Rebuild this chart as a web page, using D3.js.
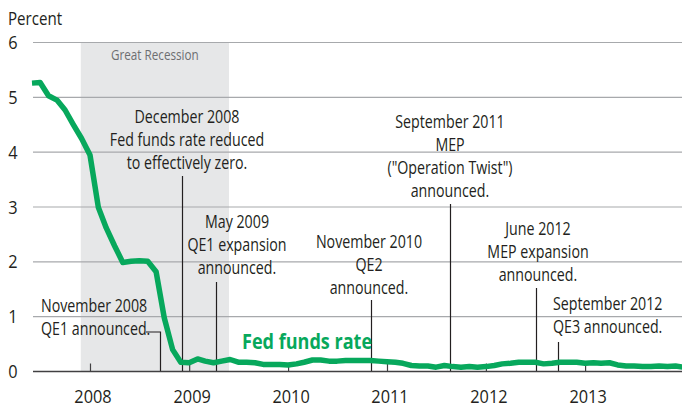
<!DOCTYPE html>
<html>
<head>
<meta charset="utf-8">
<script src="https://cdn.jsdelivr.net/npm/d3@7"></script>
<style>
  body { margin: 0; background: #fff; }
  svg text { font-family: "Open Sans", "Noto Sans", sans-serif; fill: #231f20; }
</style>
</head>
<body>
<script>
// effective federal funds rate, monthly, Jun 2007 - Jan 2014
var months = d3.timeMonths(new Date(2007, 5, 1), new Date(2014, 1, 1));
var rates = [
  5.25, 5.26, 5.02, 4.94, 4.76, 4.49, 4.24,
  3.94, 2.98, 2.61, 2.28, 1.98, 2.00, 2.01, 2.00, 1.81, 0.97, 0.39, 0.16,
  0.15, 0.22, 0.18, 0.15, 0.18, 0.21, 0.16, 0.16, 0.15, 0.12, 0.12, 0.12,
  0.11, 0.13, 0.16, 0.20, 0.20, 0.18, 0.18, 0.19, 0.19, 0.19, 0.19, 0.18,
  0.17, 0.16, 0.14, 0.10, 0.09, 0.09, 0.07, 0.10, 0.08, 0.07, 0.08, 0.07,
  0.08, 0.10, 0.13, 0.14, 0.16, 0.16, 0.16, 0.13, 0.14, 0.16, 0.16, 0.16,
  0.14, 0.15, 0.14, 0.15, 0.11, 0.09, 0.09, 0.08, 0.08, 0.09, 0.08, 0.09,
  0.07
];
var yTicks = [0, 1, 2, 3, 4, 5, 6];
var yearTicks = [2008, 2009, 2010, 2011, 2012, 2013];
var recession = [new Date(2007, 10, 28), new Date(2009, 4, 28)];

// event text and where its leader meets the axis
var eventLines = [
  ["November 2008", "QE1 announced."],
  ["December 2008", "Fed funds rate reduced", "to effectively zero."],
  ["May 2009", "QE1 expansion", "announced."],
  ["November 2010", "QE2", "announced."],
  ["September 2011", "MEP", "(\"Operation Twist\")", "announced."],
  ["June 2012", "MEP expansion", "announced."],
  ["September 2012", "QE3 announced."]
];
var eventDates = [
  new Date(2008, 8, 14), new Date(2008, 11, 6), new Date(2009, 3, 11),
  new Date(2010, 10, 3), new Date(2011, 7, 23), new Date(2012, 6, 3), new Date(2012, 8, 23)
];

// layout for each annotation: text anchor point, leader top
var eventLayout = [
  { x: 41, y: 312, anchor: "start", top: 332, elbow: 146 },
  { x: 187, y: 123, anchor: "middle", top: 176 },
  { x: 237, y: 228, anchor: "middle", top: 282 },
  { x: 369, y: 248, anchor: "middle", top: 300 },
  { x: 450, y: 128, anchor: "middle", top: 204 },
  { x: 538, y: 235, anchor: "middle", top: 288 },
  { x: 553, y: 310, anchor: "start", top: 342 }
];

var width = 682, height = 409;
var green = "#07a85c";

var svg = d3.select("body").append("svg")
  .attr("width", width).attr("height", height);

// the original face is a condensed one: squeeze the text horizontally
function label(parent, str, px, py, size, anchor, sx) {
  var g = parent.append("g")
    .attr("transform", "translate(" + px + "," + py + ") scale(" + (sx || 0.8) + ",1)");
  return g.append("text")
    .attr("text-anchor", anchor || "start")
    .style("font-size", size + "px")
    .text(str);
}

var x = d3.scaleTime()
  .domain([new Date(2007, 5, 1), new Date(2014, 0, 1)])
  .range([32, 684]);
var y = d3.scaleLinear().domain([0, 6]).range([371, 42]);

// recession band
svg.append("rect")
  .attr("x", x(recession[0]))
  .attr("y", y(6))
  .attr("width", x(recession[1]) - x(recession[0]))
  .attr("height", y(0) - y(6))
  .attr("fill", "#e6e7e8");

label(svg, "Great Recession", (x(recession[0]) + x(recession[1])) / 2, 60, 15, "middle", 0.78)
  .style("fill", "#6d6e71");

// gridlines
svg.append("g").selectAll("line")
  .data(yTicks.filter(function(d) { return d > 0; }))
  .enter().append("line")
  .attr("x1", 33).attr("x2", width)
  .attr("y1", function(d) { return y(d) + 0.5; })
  .attr("y2", function(d) { return y(d) + 0.5; })
  .attr("stroke", "#a7a9ac")
  .attr("stroke-width", 1.2);

yTicks.forEach(function(d) {
  label(svg, d, 13, y(d) + 7, 19, "middle", 0.86);
});
label(svg, "Percent", 8, 25, 18, "start", 0.84);

// annotations
var ann = svg.append("g");
eventLines.forEach(function(lines, i) {
  var lay = eventLayout[i];
  var lx = Math.round(x(eventDates[i])) + 0.5;
  lines.forEach(function(s, j) {
    label(ann, s, lay.x, lay.y + j * 23, 18, lay.anchor, 0.79);
  });
  var pts = lay.elbow ? [[lay.elbow, lay.top], [lx, lay.top], [lx, y(0)]] : [[lx, lay.top], [lx, y(0)]];
  ann.append("path")
    .attr("d", d3.line()(pts))
    .attr("fill", "none")
    .attr("stroke", "#231f20")
    .attr("stroke-width", 1.2);
});

// x axis
var xAxis = d3.axisTop(x)
  .tickValues(yearTicks.map(function(d) { return new Date(d, 0, 1); }))
  .tickSize(8)
  .tickFormat("");
var gx = svg.append("g")
  .attr("transform", "translate(0," + (y(0) + 0.5) + ")")
  .call(xAxis);
gx.select(".domain").remove();
gx.selectAll(".tick line").attr("stroke", "#414042").attr("stroke-width", 1.2);
svg.append("line")
  .attr("x1", 33).attr("x2", width)
  .attr("y1", y(0) + 0.5).attr("y2", y(0) + 0.5)
  .attr("stroke", "#414042")
  .attr("stroke-width", 1.6);

yearTicks.forEach(function(d) {
  label(svg, d, x(new Date(d, 0, 1)) + 3, 403, 19, "middle", 0.86);
});

// fed funds line
var line = d3.line()
  .x(function(d, i) { return x(months[i]); })
  .y(function(d) { return y(d); });

svg.append("path")
  .datum(rates)
  .attr("d", line)
  .attr("fill", "none")
  .attr("stroke", green)
  .attr("stroke-width", 5.5)
  .attr("stroke-linejoin", "round");

label(svg, "Fed funds rate", 242, 349, 21, "start", 0.86)
  .style("font-weight", "bold")
  .style("fill", green);
</script>
</body>
</html>
